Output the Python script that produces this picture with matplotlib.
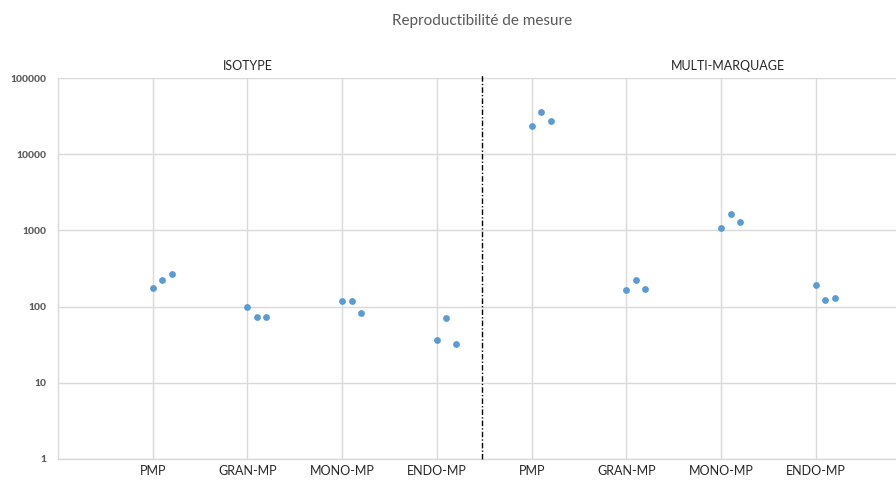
import matplotlib
matplotlib.use("Agg")
import matplotlib.pyplot as plt

plt.rcParams["font.family"] = ["Lato", "DejaVu Sans"]

# Categories (x-axis labels)
categories = ["PMP", "GRAN-MP", "MONO-MP", "ENDO-MP",
              "PMP", "GRAN-MP", "MONO-MP", "ENDO-MP"]
groups = ["ISOTYPE", "MULTI-MARQUAGE"]

mesure_1 = [178, 100, 117, 36, 23400, 164, 1070, 191]
mesure_2 = [222, 74, 117, 71, 35800, 224, 1630, 121]
mesure_3 = [269, 74, 83, 32, 27500, 171, 1290, 130]

ytick_values = [1, 10, 100, 1000, 10000, 100000]

# small horizontal shift for each repeat
offsets = [0.0, 0.1, 0.2]
blue = "#5b9bd5"
grid_col = "#d9d9d9"

fig = plt.figure(figsize=(8.96, 4.8), dpi=100)
ax = fig.add_axes([58 / 896, 1 - 459 / 480, (896 - 58) / 896, (459 - 78) / 480])

positions = list(range(1, len(categories) + 1))
for rep, off in zip([mesure_1, mesure_2, mesure_3], offsets):
    ax.scatter([p + off for p in positions], rep, s=24, color=blue,
               zorder=3, linewidths=0)

ax.set_yscale("log")
ax.set_ylim(1, 100000)
ax.set_xlim(0, 8.845)
ax.set_yticks(ytick_values)
ax.set_yticklabels([str(v) for v in ytick_values], fontsize=7.5,
                   fontweight="black", color="#595959")
ax.minorticks_off()
ax.set_xticks(positions)
ax.set_xticklabels(categories, fontsize=9, color="#262626")
ax.tick_params(axis="x", length=0, pad=4)
ax.tick_params(axis="y", length=0, pad=8)

ax.grid(True, color=grid_col, linewidth=1)
ax.set_axisbelow(True)
for s in ["top", "right"]:
    ax.spines[s].set_visible(False)
for s in ["left", "bottom"]:
    ax.spines[s].set_color(grid_col)
    ax.spines[s].set_linewidth(1)

# separator between the two groups
ax.plot([4.48, 4.48], [1, 110000], color="black", linestyle=(0, (4, 1.5, 1, 1.5)),
        linewidth=1, clip_on=False, zorder=4)

# group labels
ax.text(2.0, 120000, groups[0], ha="center", va="bottom", fontsize=9,
        color="#262626")
ax.text(7.07, 120000, groups[1], ha="center", va="bottom", fontsize=9,
        color="#262626")

fig.text(482 / 896, 1 - 21 / 480, "Reproductibilité de mesure", ha="center",
         va="center", fontsize=11, color="#595959")

fig.savefig("out.png", dpi=100)
